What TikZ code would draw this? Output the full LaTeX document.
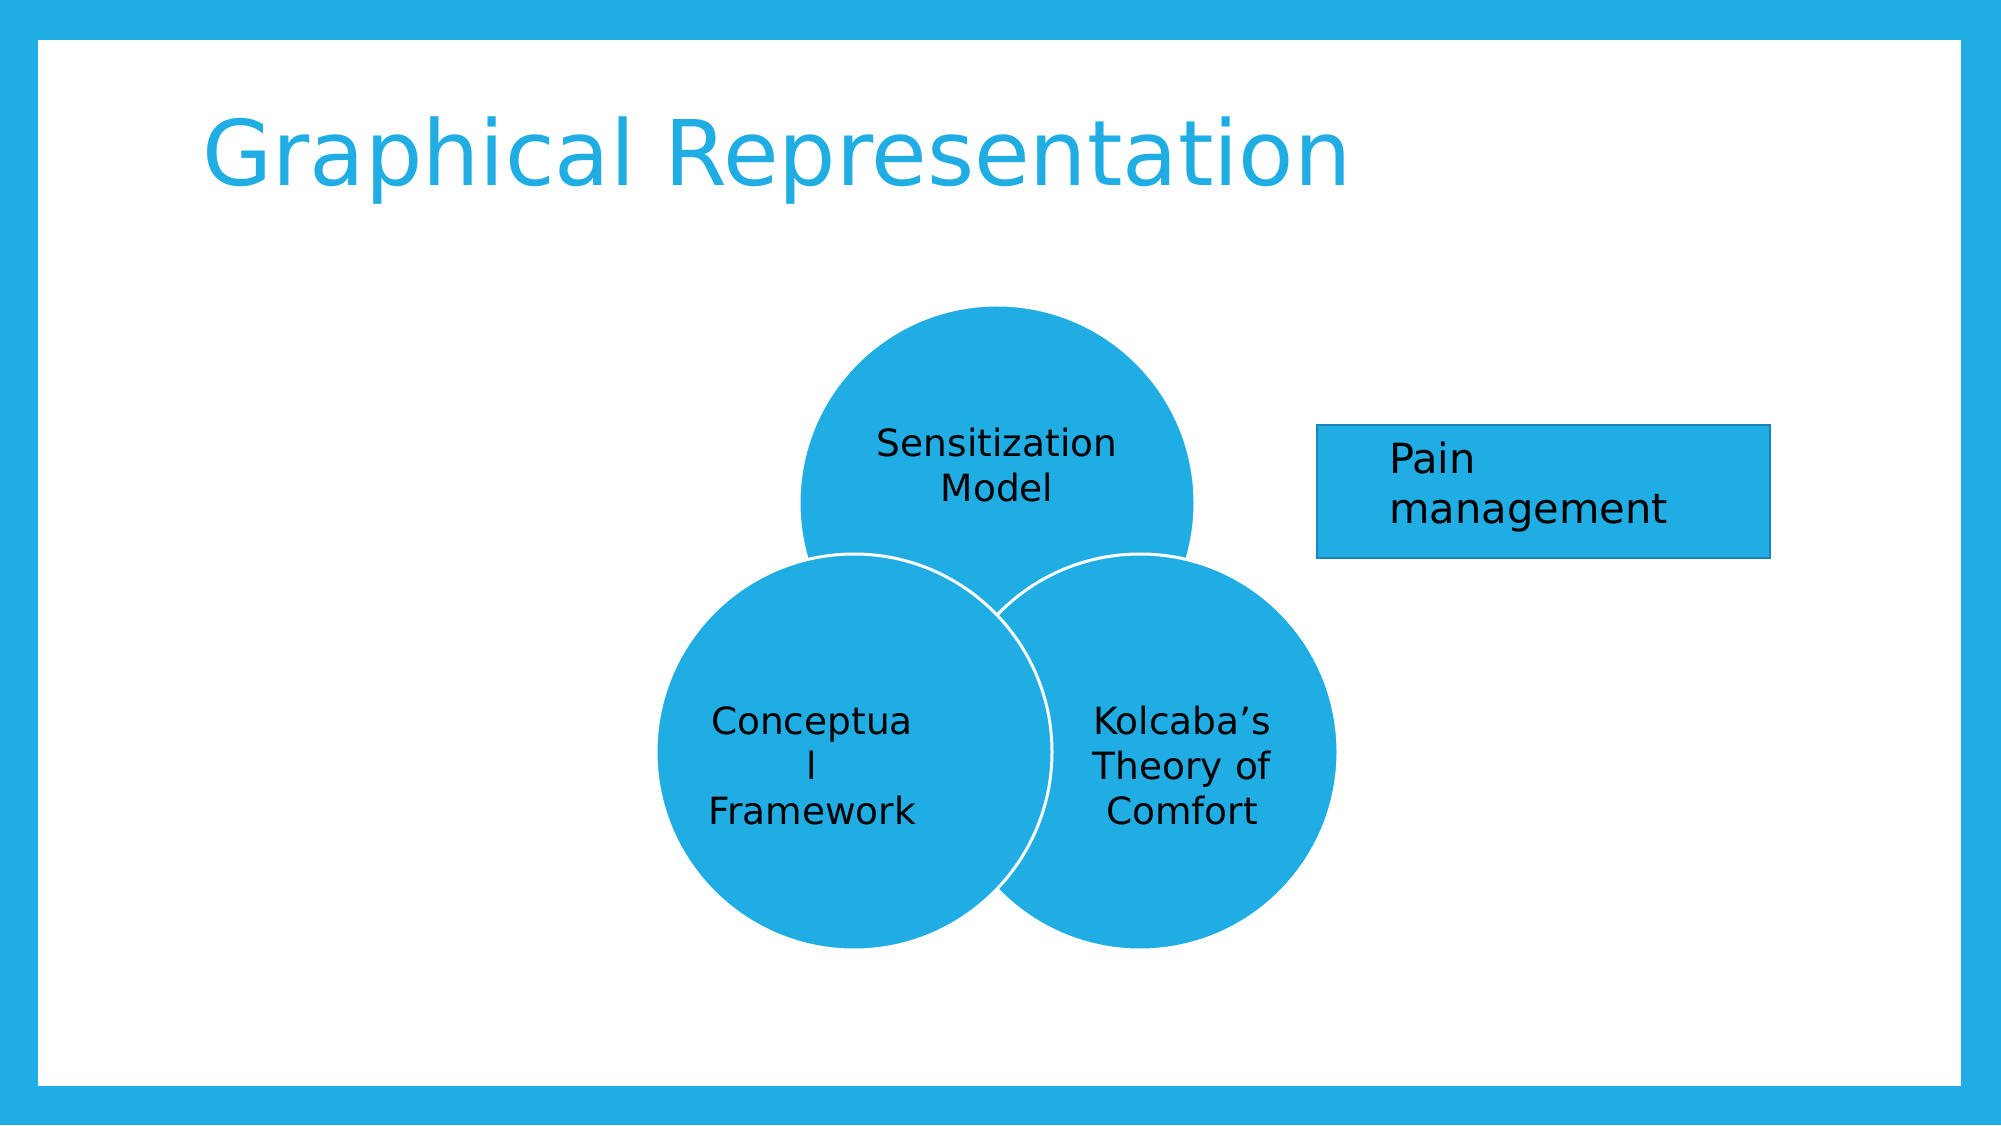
\documentclass[tikz,border=0pt]{standalone}
\usepackage{fontspec}
\setmainfont{DejaVu Sans}
\definecolor{accent}{RGB}{31,173,227}
\definecolor{boxedge}{RGB}{26,132,184}
\begin{document}
\begin{tikzpicture}[x=1pt,y=1pt,
  venn/.style={circle, fill=accent, draw=white, line width=3pt, minimum size=396pt, inner sep=0pt},
  lbl/.style={font=\fontsize{37.5}{45}\selectfont, text=black, align=center, inner sep=0pt},
  painbox/.style={rectangle, fill=accent, draw=boxedge, line width=2.2pt, minimum width=453pt, minimum height=133pt, inner sep=0pt}]
  \useasboundingbox (0,0) rectangle (2001,1125);
  \fill[accent] (0,0) rectangle (2001,1125);
  \fill[white] (38,39) rectangle (1961,1085);
  \node[anchor=base west, inner sep=0pt, text=accent, font=\fontsize{90.5}{108}\selectfont] (title) at (202,939) {Graphical Representation};
  \node[venn] (top) at (997,622) {};
  \node[venn] (right) at (1140,373) {};
  \node[venn] (left) at (854,373) {};
  \node[lbl] (sens) at (997,660) {Sensitization\\Model};
  \node[lbl] (conc) at (812,359) {Conceptua\\l\\Framework};
  \node[lbl] (kolc) at (1182,359) {Kolcaba’s\\Theory of\\Comfort};
  \node[painbox, anchor=north west] (pain) at (1316,701) {};
  \node[anchor=west, align=left, inner sep=0pt, text=black, font=\fontsize{41.6}{50}\selectfont] (paintext) at (1389,638) {Pain\\management};
\end{tikzpicture}
\end{document}
